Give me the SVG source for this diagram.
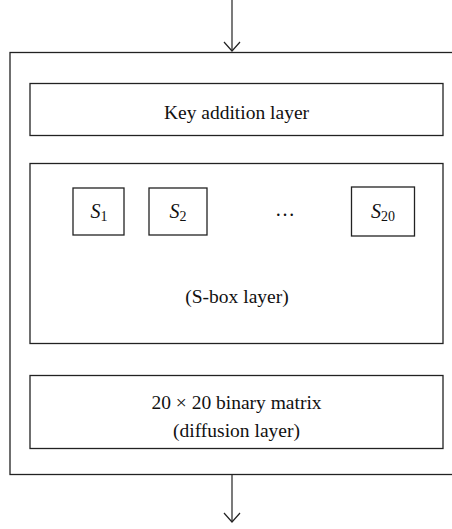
<svg xmlns="http://www.w3.org/2000/svg" width="452" height="529" viewBox="0 0 452 529">
<defs>
<style>
.box{fill:#fff;stroke:#222;stroke-width:1.3}
.t{font-family:"Liberation Serif","Times New Roman",serif;font-size:19.5px;fill:#111;text-anchor:middle}
.s{font-family:"Liberation Serif","Times New Roman",serif;font-size:20px;fill:#111;text-anchor:middle}
.sub{font-size:14px;font-style:normal}
.con{stroke:#222;stroke-width:1.2;fill:none}
</style>
</defs>
<rect width="452" height="529" fill="#fff"/>
<g id="outer"><rect class="box" x="10" y="52.5" width="450" height="422"/></g>
<g id="key"><rect class="box" x="30" y="83.5" width="413" height="52"/>
<text class="t" x="236.5" y="119">Key addition layer</text></g>
<g id="sbox-layer"><rect class="box" x="30" y="163.5" width="413" height="180"/>
<text class="t" x="237" y="303">(S-box layer)</text></g>
<g id="s1"><rect class="box" x="73" y="188" width="51" height="47"/>
<text class="s" x="99" y="218"><tspan font-style="italic">S</tspan><tspan class="sub" dy="3">1</tspan></text></g>
<g id="s2"><rect class="box" x="149" y="188" width="58" height="47"/>
<text class="s" x="178" y="218"><tspan font-style="italic">S</tspan><tspan class="sub" dy="3">2</tspan></text></g>
<g id="dots"><text class="s" x="285" y="216" font-size="21">…</text></g>
<g id="s20"><rect class="box" x="351.5" y="187" width="63" height="49"/>
<text class="s" x="383" y="218"><tspan font-style="italic">S</tspan><tspan class="sub" dy="3">20</tspan></text></g>
<g id="diffusion"><rect class="box" x="30" y="375.5" width="413" height="73"/>
<text class="t" x="236.5" y="409">20 × 20 binary matrix</text>
<text class="t" x="236.5" y="437">(diffusion layer)</text></g>
<g id="connectors">
<line class="con" x1="232" y1="0" x2="232" y2="51"/>
<path class="con" d="M224,42 L232,51 L240,42"/>
<line class="con" x1="232" y1="475" x2="232" y2="522"/>
<path class="con" d="M224,513 L232,522 L240,513"/>
</g>
</svg>
